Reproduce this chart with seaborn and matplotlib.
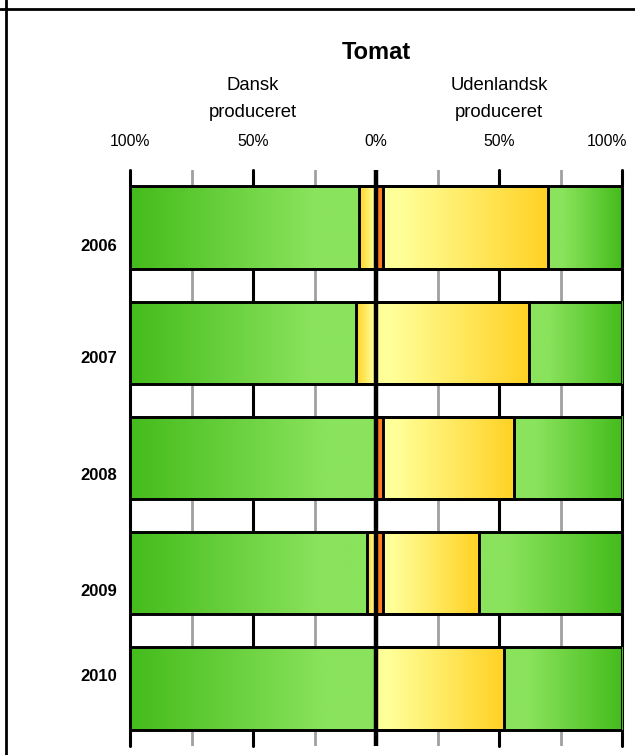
import numpy as np
import pandas as pd
import matplotlib
matplotlib.use("Agg")
import matplotlib.pyplot as plt
from matplotlib.colors import LinearSegmentedColormap
from matplotlib.lines import Line2D
from matplotlib.transforms import ScaledTranslation
import seaborn as sns

# ---- data ----
years = ["2006", "2007", "2008", "2009", "2010"]
dk_green = [93, 92, 100, 96.5, 100]
dk_yellow = [7, 8, 0, 3.5, 0]
dk_orange = [0, 0, 0, 0, 0]
ud_orange = [3, 0, 3, 3, 0]
ud_yellow = [67, 62, 53, 39, 52]
ud_green = [30, 38, 44, 58, 48]
tick_vals = [-100, -50, 0, 50, 100]
tick_labels = ["100%", "50%", "0%", "50%", "100%"]
title = "Tomat"
left_header = ["Dansk", "produceret"]
right_header = ["Udenlandsk", "produceret"]
# label offsets (in category units) for year labels as placed in the reference
label_offsets = [0.16, 0.14, 0.15, 0.16, -0.1]

sns.set_theme(style="white")
plt.rcParams["font.family"] = ["Liberation Sans", "DejaVu Sans"]
plt.rcParams["text.color"] = "black"
plt.rcParams["xtick.color"] = "black"
plt.rcParams["xtick.labelcolor"] = "black"

W, H = 635, 755
fig = plt.figure(figsize=(W / 100, H / 100), dpi=100)
ax_l, ax_r, ax_t, ax_b = 130, 622, 170, 746
ax = fig.add_axes([ax_l / W, (H - ax_b) / H, (ax_r - ax_l) / W, (ax_b - ax_t) / H])

df = pd.DataFrame({
    "year": years,
    "dk_green": dk_green, "dk_yellow": dk_yellow, "dk_orange": dk_orange,
    "ud_orange": ud_orange, "ud_yellow": ud_yellow, "ud_green": ud_green,
})
# cumulative extents from zero outwards
df["dk_c1"] = df["dk_orange"]
df["dk_c2"] = df["dk_c1"] + df["dk_yellow"]
df["dk_c3"] = df["dk_c2"] + df["dk_green"]
df["ud_c1"] = df["ud_orange"]
df["ud_c2"] = df["ud_c1"] + df["ud_yellow"]
df["ud_c3"] = df["ud_c2"] + df["ud_green"]

GREEN_IN, GREEN_OUT = "#8AE35C", "#44BC1C"
YEL_IN, YEL_OUT = "#FFFF99", "#FFD224"
ORANGE = "#FF7E1E"
BAR_H = 0.715

# outermost first, inner on top
layers = [
    (-df["dk_c3"], GREEN_IN), (-df["dk_c2"], YEL_IN), (-df["dk_c1"], ORANGE),
    (df["ud_c3"], GREEN_IN), (df["ud_c2"], YEL_IN), (df["ud_c1"], ORANGE),
]
for vals, col in layers:
    sns.barplot(x=vals.values, y=df["year"], orient="h", color=col,
                edgecolor="black", linewidth=2.1, width=BAR_H, ax=ax,
                saturation=1, zorder=2)

for p in ax.patches:
    p.set_facecolor("none")
    p.set_zorder(4)

green_cm = LinearSegmentedColormap.from_list("g", [(0, GREEN_IN), (0.2, GREEN_IN), (1, GREEN_OUT)])
yel_cm = LinearSegmentedColormap.from_list("y", [(0, YEL_IN), (0.1, YEL_IN), (1, YEL_OUT)])
orange_cm = LinearSegmentedColormap.from_list("o", [ORANGE, ORANGE])
grad = np.linspace(0, 1, 256).reshape(1, -1)

segs = [("dk", "c1", "c2", yel_cm), ("dk", "c2", "c3", green_cm), ("dk", "zero", "c1", orange_cm),
        ("ud", "zero", "c1", orange_cm), ("ud", "c1", "c2", yel_cm), ("ud", "c2", "c3", green_cm)]
for i in range(len(df)):
    for side, a, b, cm in segs:
        x0 = 0 if a == "zero" else df.loc[i, f"{side}_{a}"]
        x1 = df.loc[i, f"{side}_{b}"]
        if x1 - x0 <= 0:
            continue
        g = grad if side == "ud" else grad[:, ::-1]
        sgn = 1 if side == "ud" else -1
        xa, xb = sorted([sgn * x0, sgn * x1])
        ax.imshow(g, extent=[xa, xb, i + BAR_H / 2, i - BAR_H / 2], aspect="auto",
                  cmap=cm, vmin=0, vmax=1, zorder=3, interpolation="bilinear")

ax.set_xlim(-100, 100)
ax.set_ylim(4.5, -0.5)

# gridlines
for v in [-75, -25, 25, 75]:
    ax.axvline(v, color="#A0A0A0", lw=2, zorder=1)
for v in [-100, -50, 50, 100]:
    ax.axvline(v, color="black", lw=2.2, zorder=1, clip_on=False)
ax.axvline(0, color="black", lw=3.2, zorder=5)

for s in ax.spines.values():
    s.set_visible(False)

ax.xaxis.tick_top()
ax.set_xticks(tick_vals)
ax.set_xticklabels(tick_labels, fontsize=11.3, color="black")
ax.tick_params(axis="x", length=0, pad=15)
last = ax.get_xticklabels()[-1]
last.set_horizontalalignment("right")
last.set_transform(last.get_transform() + ScaledTranslation(5 / 100, 0, fig.dpi_scale_trans))
ax.set_yticks([])
ax.set_ylabel("")
ax.set_xlabel("")

ytr = ax.get_yaxis_transform()
for i, (yr, off) in enumerate(zip(years, label_offsets)):
    ax.text(-0.027, i + off, yr, transform=ytr, ha="right", va="center",
            fontsize=12, fontweight="bold", color="black")

fig.text(376 / W, 1 - 59 / H, title, ha="center", va="baseline", fontsize=17,
         fontweight="bold", color="black")
for cx, lines in [(253, left_header), (499, right_header)]:
    fig.text(cx / W, 1 - 90 / H, lines[0], ha="center", va="baseline", fontsize=13.3, color="black")
    fig.text(cx / W, 1 - 117 / H, lines[1], ha="center", va="baseline", fontsize=13.3, color="black")

# frame lines of the cropped chart border
fig.add_artist(Line2D([0, 1], [1 - 8.5 / H, 1 - 8.5 / H], color="black", lw=2, transform=fig.transFigure))
fig.add_artist(Line2D([6 / W, 6 / W], [0, 1], color="black", lw=2, transform=fig.transFigure))

fig.savefig("out.png", dpi=100)
